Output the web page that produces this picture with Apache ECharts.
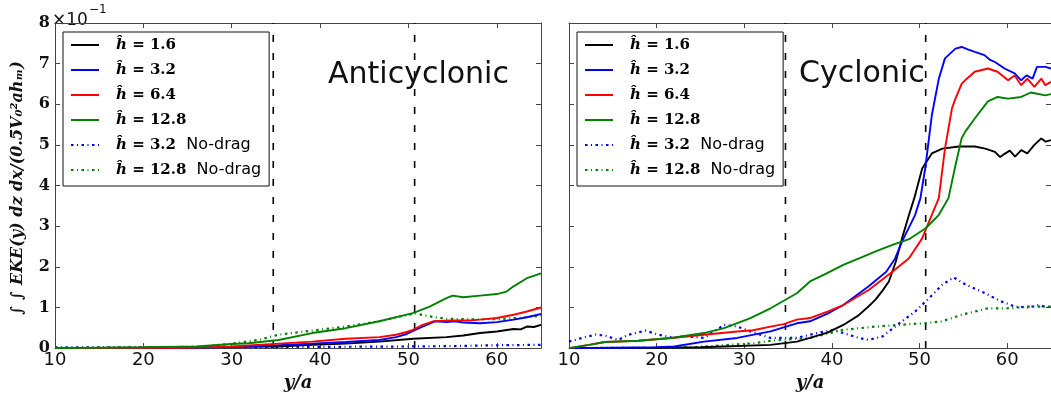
<!DOCTYPE html>
<html>
<head>
<meta charset="utf-8">
<script src="https://cdn.jsdelivr.net/npm/echarts@6/dist/echarts.min.js"></script>
<style>
  html, body { margin: 0; padding: 0; background: #fff; }
  #chart { width: 1051px; height: 397px; }
</style>
</head>
<body>
<div id="chart"></div>
<script>
// Integrated eddy kinetic energy vs. y/a, in units of 1e-1 on the y axis.
// Each series is a list of [y/a, value] pairs.

// ---- Anticyclonic panel ----
const antiH16 = [[10,0],[20,0.001],[26,0.002],[30,0.003],[35.3,0.004],[39.1,0.008],[42.9,0.011],[46.7,0.016],[50.5,0.023],[54.3,0.027],[56.2,0.031],[58.1,0.037],[60,0.041],[61.9,0.047],[62.7,0.046],[63.4,0.053],[64.2,0.052],[65,0.057]];
const antiH32 = [[10,0],[25,0.001],[30,0.003],[35.3,0.007],[39.1,0.011],[42.9,0.015],[46.7,0.020],[48.6,0.027],[49.7,0.034],[50.6,0.043],[51.6,0.053],[53,0.066],[54.3,0.064],[55.2,0.066],[56.2,0.063],[58.1,0.061],[60,0.064],[61.9,0.070],[63.4,0.076],[65,0.084]];
const antiH64 = [[10,0],[25,0.001],[30,0.004],[35.3,0.011],[39.1,0.016],[42.9,0.023],[46.7,0.027],[48.6,0.033],[49.7,0.039],[50.5,0.045],[51.6,0.057],[52.8,0.066],[53.5,0.067],[55,0.068],[56.9,0.068],[58.1,0.070],[60,0.074],[61.9,0.082],[63.4,0.090],[65,0.100]];
const antiH128 = [[10,0],[20,0.002],[26,0.004],[30,0.010],[31.9,0.012],[35.3,0.020],[39.1,0.037],[42.9,0.049],[46.7,0.066],[50.5,0.086],[52.4,0.102],[54.3,0.123],[55,0.129],[56.2,0.125],[58.1,0.129],[60,0.133],[61.1,0.139],[61.9,0.152],[63.4,0.172],[65,0.184]];
const antiH32nd = [[10,0.002],[20,0.002],[30,0.002],[40,0.003],[50,0.004],[55,0.005],[60,0.007],[65,0.008]];
const antiH128nd = [[10,0.001],[20,0.001],[27,0.004],[30,0.011],[33,0.020],[35.3,0.033],[39.1,0.043],[42.9,0.053],[46.7,0.066],[49.5,0.080],[50.8,0.085],[52.4,0.078],[54.3,0.072],[57,0.071],[60,0.071],[63,0.075],[65,0.080]];

// ---- Cyclonic panel ----
const cycH16 = [[10,0],[20,0.001],[25,0.002],[27.7,0.004],[33,0.008],[36,0.016],[37.5,0.025],[39.5,0.038],[41.3,0.057],[43,0.080],[44.2,0.103],[45,0.120],[45.8,0.142],[46.5,0.164],[47.3,0.213],[48,0.270],[48.8,0.328],[49.4,0.369],[50.3,0.442],[51.4,0.479],[52.6,0.491],[54.5,0.496],[56.3,0.496],[57.5,0.491],[58.6,0.483],[59.2,0.470],[59.7,0.478],[60.3,0.486],[60.9,0.471],[61.6,0.487],[62.3,0.479],[63.1,0.500],[63.9,0.516],[64.4,0.508],[65,0.512]];
const cycH32 = [[10,0],[15,0.001],[20,0.002],[22,0.004],[25.4,0.016],[29.2,0.025],[33,0.041],[36,0.061],[37.5,0.066],[39.5,0.085],[41.3,0.106],[44.2,0.152],[46.2,0.188],[47.2,0.220],[48,0.262],[49.5,0.328],[50.1,0.369],[50.7,0.450],[51.4,0.573],[52.2,0.663],[52.9,0.713],[54.1,0.737],[54.8,0.741],[55.5,0.735],[56.3,0.729],[57.4,0.721],[58.0,0.710],[58.6,0.704],[59.7,0.688],[60.85,0.676],[61.6,0.659],[62.2,0.671],[62.9,0.663],[63.4,0.692],[64.35,0.692],[65,0.688]];
const cycH64 = [[10,0],[12.3,0.008],[14.1,0.015],[17.9,0.018],[21.7,0.025],[25.4,0.033],[29.2,0.041],[31,0.044],[33,0.053],[34.5,0.059],[36,0.070],[37.5,0.074],[39.5,0.090],[41.3,0.106],[44.2,0.143],[46.9,0.188],[48.8,0.221],[50.3,0.270],[51.4,0.328],[52.2,0.369],[52.9,0.491],[53.7,0.590],[54.1,0.614],[54.8,0.650],[55.2,0.659],[56.3,0.680],[57.8,0.688],[58.9,0.680],[60.1,0.659],[60.85,0.671],[61.6,0.647],[62.3,0.663],[63.1,0.643],[63.9,0.663],[64.35,0.647],[65,0.655]];
const cycH128 = [[10,0],[12.3,0.008],[14.1,0.015],[17.9,0.018],[21.7,0.025],[25.4,0.037],[27.7,0.049],[30.7,0.074],[33,0.098],[36,0.135],[37.5,0.164],[39.4,0.184],[41.3,0.205],[43.1,0.221],[45,0.238],[46.9,0.254],[48.8,0.268],[50.7,0.295],[52.2,0.328],[53.3,0.369],[54.1,0.450],[54.8,0.516],[55.2,0.532],[56.3,0.565],[57.8,0.607],[58.9,0.618],[60.1,0.614],[61.6,0.618],[62.7,0.629],[64.35,0.622],[65,0.625]];
const cycH32nd = [[10,0.016],[11.5,0.025],[13,0.033],[14.1,0.031],[15.6,0.020],[16.8,0.033],[18.7,0.043],[20.2,0.033],[21.7,0.026],[23.6,0.029],[25.4,0.025],[27.7,0.057],[29.2,0.053],[30.7,0.041],[33,0.025],[36,0.025],[37.5,0.033],[40.1,0.045],[43.1,0.025],[44.2,0.020],[45.8,0.029],[48,0.066],[49.5,0.090],[51.1,0.123],[52.6,0.156],[53.9,0.174],[55.2,0.157],[57.1,0.139],[59.3,0.115],[60.9,0.102],[62.4,0.100],[63.5,0.105],[64.4,0.102],[65,0.100]];
const cycH128nd = [[10,0],[20,0.001],[24,0.002],[28.4,0.008],[31.1,0.012],[33,0.018],[36,0.023],[37.5,0.025],[41.3,0.045],[45,0.053],[48.8,0.059],[50.7,0.061],[52.6,0.066],[54.8,0.082],[57.8,0.098],[60,0.098],[62.35,0.102],[65,0.102]];

// Region boundaries (y/a) marked by vertical dashed lines
const boundaries = [34.7, 50.7];

const seriesNames = ['ĥ = 1.6', 'ĥ = 3.2', 'ĥ = 6.4', 'ĥ = 12.8', 'ĥ = 3.2 No-drag', 'ĥ = 12.8 No-drag'];
const seriesColors = ['#000000', '#0000ff', '#ff0000', '#008000', '#0000ff', '#008000'];
const panelData = [
  [antiH16, antiH32, antiH64, antiH128, antiH32nd, antiH128nd],
  [cycH16, cycH32, cycH64, cycH128, cycH32nd, cycH128nd]
];
const panelTitles = ['Anticyclonic', 'Cyclonic'];

const dashDot = [2.5, 3.5, 1, 3.5];
const frameColor = '#444';
const grids = [
  { left: 55, top: 23, width: 486, height: 327 },
  { left: 569, top: 23, width: 487, height: 327 }
];

const xAxes = [], yAxes = [], series = [];
grids.forEach((g, gi) => {
  const base = {
    gridIndex: gi, type: 'value', min: 10, max: 65, interval: 10,
    axisLine: { show: true, onZero: false, lineStyle: { color: frameColor, width: 1 } },
    axisTick: { show: true, inside: true, length: 5, lineStyle: { color: frameColor } },
    splitLine: { show: false }
  };
  xAxes.push(Object.assign({}, base, {
    position: 'bottom',
    axisLabel: { show: true, margin: 3, showMaxLabel: false, fontFamily: 'DejaVu Sans', fontSize: 18, color: '#111' },
    name: 'y/a', nameLocation: 'middle', nameGap: 25,
    nameTextStyle: { fontFamily: 'DejaVu Serif', fontWeight: 'bold', fontStyle: 'italic', fontSize: 18, color: '#111' }
  }));
  xAxes.push(Object.assign({}, base, { position: 'top', axisLabel: { show: false } }));
  const ybase = {
    gridIndex: gi, type: 'value', min: 0, max: 0.8, interval: 0.1,
    axisLine: { show: true, onZero: false, lineStyle: { color: frameColor, width: 1 } },
    axisTick: { show: true, inside: true, length: 5, lineStyle: { color: frameColor } },
    splitLine: { show: false }
  };
  yAxes.push(Object.assign({}, ybase, {
    position: 'left',
    axisLabel: {
      show: gi === 0, margin: 5, fontFamily: 'DejaVu Serif', fontWeight: 'bold', fontSize: 16, color: '#111',
      formatter: v => String(Math.round(v * 10))
    }
  }));
  yAxes.push(Object.assign({}, ybase, { position: 'right', axisLabel: { show: false } }));

  panelData[gi].forEach((data, si) => {
    series.push({
      name: seriesNames[si], type: 'line', data: data,
      xAxisIndex: gi * 2, yAxisIndex: gi * 2,
      showSymbol: false, symbol: 'none', animation: false,
      color: seriesColors[si],
      lineStyle: { color: seriesColors[si], width: si < 4 ? 1.9 : 2.2, type: si < 4 ? 'solid' : dashDot },
      z: 3 + (si < 4 ? 1 : 0)
    });
  });
  boundaries.forEach(b => {
    series.push({
      type: 'line', data: [[b, 0], [b, 0.8]], xAxisIndex: gi * 2, yAxisIndex: gi * 2,
      showSymbol: false, symbol: 'none', animation: false, silent: true,
      lineStyle: { color: '#000', width: 1.6, type: [7, 11] }, z: 2
    });
  });
});

const legendBase = {
  orient: 'vertical', top: 32, data: seriesNames,
  itemWidth: 28, itemHeight: 14, itemGap: 7,
  padding: [4, 8, 7, 7],
  borderColor: '#111', borderWidth: 1, backgroundColor: '#fff',
  selectedMode: false,
  itemStyle: { opacity: 0, borderWidth: 0 },
  textStyle: {
    color: '#000', fontSize: 15, lineHeight: 18,
    rich: {
      h: { fontFamily: 'DejaVu Serif', fontWeight: 'bold', fontStyle: 'italic', fontSize: 15, padding: [0, 0, 0, 12] },
      m: { fontFamily: 'DejaVu Serif', fontWeight: 'bold', fontSize: 15 },
      s: { fontFamily: 'DejaVu Sans', fontSize: 16 }
    }
  },
  formatter: name => {
    const parts = name.split(' No-drag');
    const main = parts[0].replace('ĥ', '');
    return '{h|ĥ}{m|' + main + '}' + (parts.length > 1 ? '{s|  No-drag}' : '');
  }
};

const chart = echarts.init(document.getElementById('chart'), null, { renderer: 'canvas' });
chart.setOption({
  backgroundColor: '#fff',
  animation: false,
  grid: grids,
  xAxis: xAxes,
  yAxis: yAxes,
  legend: [Object.assign({ left: 63 }, legendBase), Object.assign({ left: 577 }, legendBase)],
  series: series,
  graphic: [
    { type: 'text', left: 328, top: 60, style: { text: panelTitles[0], fontFamily: 'DejaVu Sans', fontSize: 30, fill: '#111' }, z: 10 },
    { type: 'text', left: 799, top: 59, style: { text: panelTitles[1], fontFamily: 'DejaVu Sans', fontSize: 30, fill: '#111' }, z: 10 },
    { type: 'text', left: 52, top: 12, style: { text: '×10', fontFamily: 'DejaVu Sans', fontSize: 17, fill: '#111' } },
    { type: 'text', left: 89, top: 4, style: { text: '−1', fontFamily: 'DejaVu Sans', fontSize: 12, fill: '#111' } },
    {
      type: 'text', x: 18, y: 188, rotation: Math.PI / 2,
      style: {
        text: '∫ ∫ EKE(y) dz dx/(0.5V₀²ahₘ)',
        fontFamily: 'DejaVu Serif', fontWeight: 'bold', fontStyle: 'italic', fontSize: 16,
        fill: '#111', align: 'center', verticalAlign: 'middle'
      }
    }
  ]
});
</script>
</body>
</html>
